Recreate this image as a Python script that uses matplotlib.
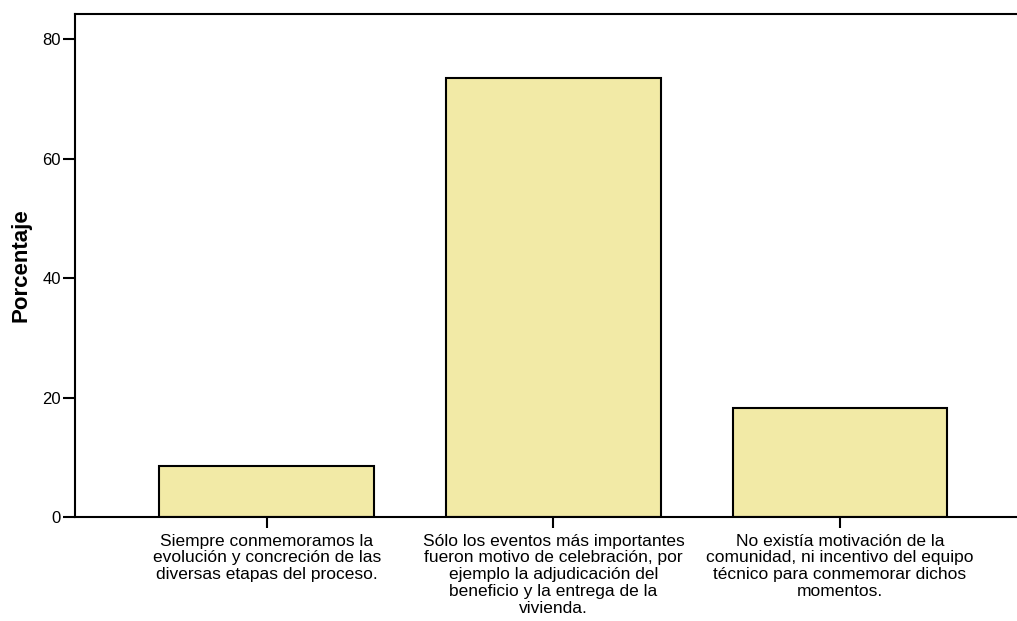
import numpy as np
import matplotlib
matplotlib.use('Agg')
import matplotlib.pyplot as plt

# Category labels and percentages
categories = [
    'Siempre conmemoramos la\nevolución y concreción de las\ndiversas etapas del proceso.',
    'Sólo los eventos más importantes\nfueron motivo de celebración, por\nejemplo la adjudicación del\nbeneficio y la entrega de la\nvivienda.',
    'No existía motivación de la\ncomunidad, ni incentivo del equipo\ntécnico para conmemorar dichos\nmomentos.',
]
percentages = [8.5, 73.5, 18.3]
y_ticks = [0, 20, 40, 60, 80]

plt.rcParams['font.family'] = ['Liberation Sans', 'DejaVu Sans']

fig = plt.figure(figsize=(10.17, 6.21), dpi=100)
ax = fig.add_axes([0.0737, 0.1675, 0.941, 0.81])

x = np.arange(len(categories))
ax.bar(x, percentages, width=0.75, color='#F2EAA6', edgecolor='black', linewidth=1.5)

ax.set_xlim(-0.67, 2.67)
ax.set_ylim(0, 84.2)
ax.set_yticks(y_ticks)
ax.set_yticklabels([str(v) for v in y_ticks], fontsize=12)
ax.set_xticks(x)
ax.set_xticklabels(categories, fontsize=12.5, linespacing=1.15)

ax.tick_params(axis='y', direction='out', length=9, width=1.5, pad=1)
ax.tick_params(axis='x', direction='out', length=8, width=1.5, pad=4)

for side in ['left', 'bottom', 'top']:
    ax.spines[side].set_linewidth(1.5)
ax.spines['right'].set_visible(False)

ax.set_ylabel('Porcentaje', fontsize=16, fontweight='bold', labelpad=8)

fig.savefig('out.png', dpi=100)
